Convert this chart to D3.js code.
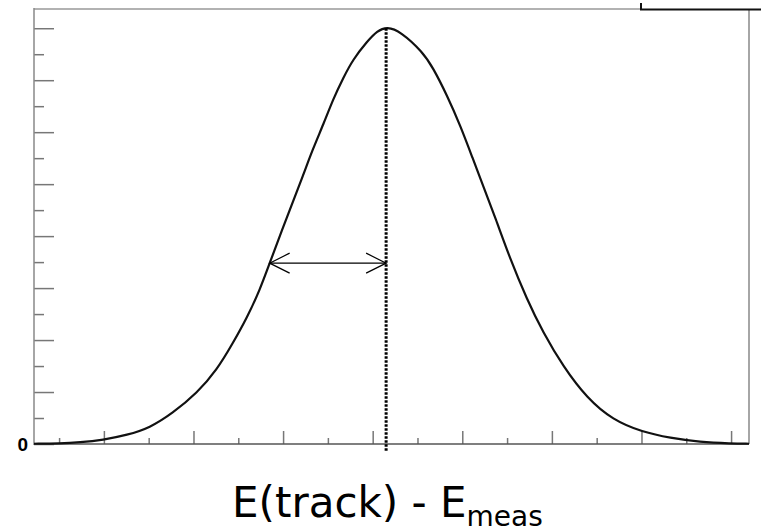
<!DOCTYPE html>
<html>
<head>
<meta charset="utf-8">
<script src="https://cdn.jsdelivr.net/npm/d3@7"></script>
<style>
  html, body { margin: 0; padding: 0; background: #fff; }
  svg { display: block; }
</style>
</head>
<body>
<svg id="chart" width="761" height="532"></svg>
<script>
// Residual distribution E(track) - E_meas: smooth peaked curve
const curveX = [-0.78, -0.49, -0.27, -0.01, 0.26, 0.51, 0.77, 1.04, 1.26, 1.44, 1.60, 1.74, 1.85,
  2.05, 2.22, 2.33, 2.45, 2.56, 2.67, 2.78, 2.94, 3.05, 3.16, 3.31, 3.56, 3.67, 3.83, 3.98, 4.12,
  4.23, 4.37, 4.53, 4.72, 4.90, 5.13, 5.39, 5.68, 6.01, 6.32, 6.65, 7.00, 7.20];
const curveY = [0.005, 0.01, 0.03, 0.077, 0.173, 0.308, 0.596, 0.981, 1.423, 1.942, 2.442, 2.962, 3.48,
  4.40, 5.15, 5.67, 6.15, 6.64, 7.04, 7.40, 7.75, 7.95, 8.03, 7.94, 7.54, 7.25, 6.71, 6.12, 5.48,
  4.98, 4.35, 3.58, 2.79, 2.15, 1.48, 0.885, 0.46, 0.23, 0.115, 0.038, 0.01, 0.005];

// Axis ticks (unlabelled except the zero)
const xMajorTicks = [0, 1, 2, 3, 4, 5, 6, 7];
const xMinorTicks = [-0.5, 0.5, 1.5, 2.5, 3.5, 4.5, 5.5, 6.5];
const yMajorTicks = [0, 1, 2, 3, 4, 5, 6, 7, 8];
const yMinorTicks = [0.5, 1.5, 2.5, 3.5, 4.5, 5.5, 6.5, 7.5];
const yLabelValue = 0;
const yLabelText = "0";

// Mean marker and the half-width arrow
const meanX = 3.15;
const arrowY = 3.48;
const arrowLeftX = 1.85;

const titleMain = "E(track) - E";
const titleSub = "meas";

const svg = d3.select("#chart");
const x = d3.scaleLinear().domain([-0.78, 7.2]).range([34, 749]);
const y = d3.scaleLinear().domain([0, 8.37]).range([444, 9]);

const axisColor = "#777";

// frame: top and right edges
svg.append("line").attr("x1", 34).attr("x2", 642).attr("y1", 9).attr("y2", 9)
  .attr("stroke", "#999").attr("stroke-width", 1.5);
svg.append("line").attr("x1", 749).attr("x2", 749).attr("y1", 10).attr("y2", 444)
  .attr("stroke", "#888").attr("stroke-width", 1.5);
// corner of the statistics box at the top right
svg.append("path").attr("d", "M641,3 V9.5 H761")
  .attr("fill", "none").attr("stroke", "#111").attr("stroke-width", 2);

// left axis
const gy = svg.append("g").attr("transform", "translate(34,0)");
gy.call(d3.axisLeft(y).tickValues(yMajorTicks).tickSizeInner(-20).tickSizeOuter(0).tickFormat(""));
gy.append("g").call(d3.axisLeft(y).tickValues(yMinorTicks).tickSizeInner(-10).tickSizeOuter(0).tickFormat(""));
gy.selectAll(".domain").remove();
gy.selectAll("line").attr("stroke", axisColor).attr("stroke-width", 1.5);
gy.append("text")
  .attr("x", -6).attr("y", y(yLabelValue) + 7)
  .attr("text-anchor", "end")
  .attr("font-family", "'Liberation Sans', Arial, sans-serif")
  .attr("font-weight", "bold").attr("font-size", 19).attr("fill", "#000")
  .text(yLabelText);
svg.append("line").attr("x1", 34).attr("x2", 34).attr("y1", 8).attr("y2", 445)
  .attr("stroke", "#888").attr("stroke-width", 1.5);

// bottom axis
const gx = svg.append("g").attr("transform", "translate(0,444)");
gx.call(d3.axisBottom(x).tickValues(xMajorTicks).tickSizeInner(-13).tickSizeOuter(0).tickFormat(""));
gx.append("g").call(d3.axisBottom(x).tickValues(xMinorTicks).tickSizeInner(-6).tickSizeOuter(0).tickFormat(""));
gx.selectAll(".domain").remove();
gx.selectAll("line").attr("stroke", axisColor).attr("stroke-width", 1.5);
svg.append("line").attr("x1", 34).attr("x2", 749).attr("y1", 444).attr("y2", 444)
  .attr("stroke", "#555").attr("stroke-width", 1.5);

// the distribution curve
const pts = curveX.map((v, i) => [v, curveY[i]]);
svg.append("path").datum(pts)
  .attr("d", d3.line().x(d => x(d[0])).y(d => y(d[1])).curve(d3.curveBasis))
  .attr("fill", "none").attr("stroke", "#111").attr("stroke-width", 2.2);

// dotted line at the mean
svg.append("line").attr("x1", x(meanX)).attr("x2", x(meanX))
  .attr("y1", y(8)).attr("y2", 452)
  .attr("stroke", "#000").attr("stroke-width", 3).attr("stroke-dasharray", "2.5,1.5");

// double-headed arrow for the width
const ax1 = x(arrowLeftX), ax2 = x(meanX), ay = y(arrowY);
svg.append("line").attr("x1", ax1).attr("x2", ax2).attr("y1", ay).attr("y2", ay)
  .attr("stroke", "#000").attr("stroke-width", 1.2);
svg.append("path").attr("d", `M${ax1 + 20},${ay - 10} L${ax1},${ay} L${ax1 + 20},${ay + 10}`)
  .attr("fill", "none").attr("stroke", "#000").attr("stroke-width", 1.2);
svg.append("path").attr("d", `M${ax2 - 20},${ay - 10} L${ax2},${ay} L${ax2 - 20},${ay + 10}`)
  .attr("fill", "none").attr("stroke", "#000").attr("stroke-width", 1.2);

// axis title
const title = svg.append("text").attr("x", 232).attr("y", 517)
  .attr("font-family", "DejaVu Sans, Verdana, sans-serif").attr("font-size", 42).attr("fill", "#000");
title.append("tspan").text(titleMain);
title.append("tspan").attr("font-size", 28).attr("dy", 9).text(titleSub);
</script>
</body>
</html>
